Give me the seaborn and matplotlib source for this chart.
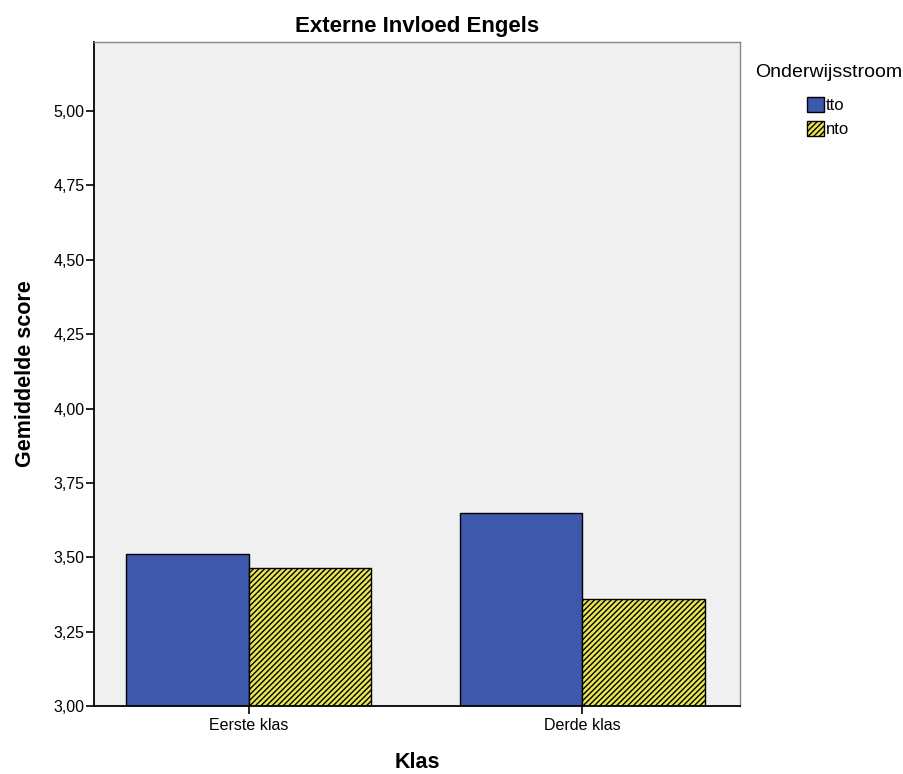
import numpy as np
import pandas as pd
import matplotlib
matplotlib.use('Agg')
import matplotlib.pyplot as plt
import seaborn as sns
from matplotlib.patches import Patch

klassen = ['Eerste klas', 'Derde klas']
stromen = ['tto', 'nto']
tto_scores = [3.51, 3.65]
nto_scores = [3.465, 3.36]
yticks = [3.00, 3.25, 3.50, 3.75, 4.00, 4.25, 4.50, 4.75, 5.00]

df = pd.DataFrame({
    'Klas': klassen * 2,
    'Onderwijsstroom': ['tto'] * 2 + ['nto'] * 2,
    'score': tto_scores + nto_scores,
})

sns.set_style('white')
plt.rcParams['font.family'] = ['Liberation Sans', 'DejaVu Sans']
plt.rcParams['hatch.linewidth'] = 1.0
plt.rcParams['text.color'] = 'black'
plt.rcParams['axes.labelcolor'] = 'black'
plt.rcParams['xtick.color'] = 'black'
plt.rcParams['ytick.color'] = 'black'

blue = '#3e58ac'
yellow = '#e8e650'

fig = plt.figure(figsize=(9.04, 7.74), dpi=100)
ax = fig.add_axes([94 / 904, 68 / 774, 646 / 904, 664 / 774])
ax.set_facecolor('#f0f0f0')

sns.barplot(data=df, x='Klas', y='score', hue='Onderwijsstroom',
            hue_order=stromen, order=klassen,
            palette={'tto': blue, 'nto': yellow}, saturation=1,
            width=0.735, edgecolor='black', linewidth=1.0,
            legend=False, ax=ax)

n = len(klassen)
for i, bar in enumerate(ax.patches):
    if i >= n:
        bar.set_hatch('//////')

ax.set_ylim(3.0, 5.232)
ax.set_xlim(-0.465, 1.474)
ax.set_yticks(yticks)
ax.set_yticklabels([f'{v:.2f}'.replace('.', ',') for v in yticks], fontsize=11.5)
ax.set_xticks(range(n))
ax.set_xticklabels(klassen, fontsize=11.5)
ax.tick_params(axis='y', direction='out', length=6, width=1.2, left=True, pad=1)
ax.tick_params(axis='x', direction='out', length=6, width=1.2, bottom=True, pad=3)

for s in ['left', 'bottom']:
    ax.spines[s].set_color('black')
    ax.spines[s].set_linewidth(1.3)
for s in ['top', 'right']:
    ax.spines[s].set_color('#888888')
    ax.spines[s].set_linewidth(1.0)

ax.set_title('Externe Invloed Engels', fontsize=16, fontweight='bold', pad=7)
ax.set_xlabel('Klas', fontsize=15.5, fontweight='bold', labelpad=13)
ax.set_ylabel('Gemiddelde score', fontsize=15.5, fontweight='bold', labelpad=12)

handles = [Patch(facecolor=blue, edgecolor='black', label='tto'),
           Patch(facecolor=yellow, edgecolor='black', hatch='//////', label='nto')]
leg = fig.legend(handles=handles, title='Onderwijsstroom', loc='upper left',
                 bbox_to_anchor=(743 / 904, 1 - 52 / 774), frameon=False,
                 fontsize=12, title_fontsize=14, handlelength=1.0, handleheight=1.0,
                 handletextpad=0.1, labelspacing=0.45, borderpad=0.2)
leg._legend_box.align = 'center'
leg._legend_box.sep = 12

fig.savefig('out.png', dpi=100, facecolor='white')
